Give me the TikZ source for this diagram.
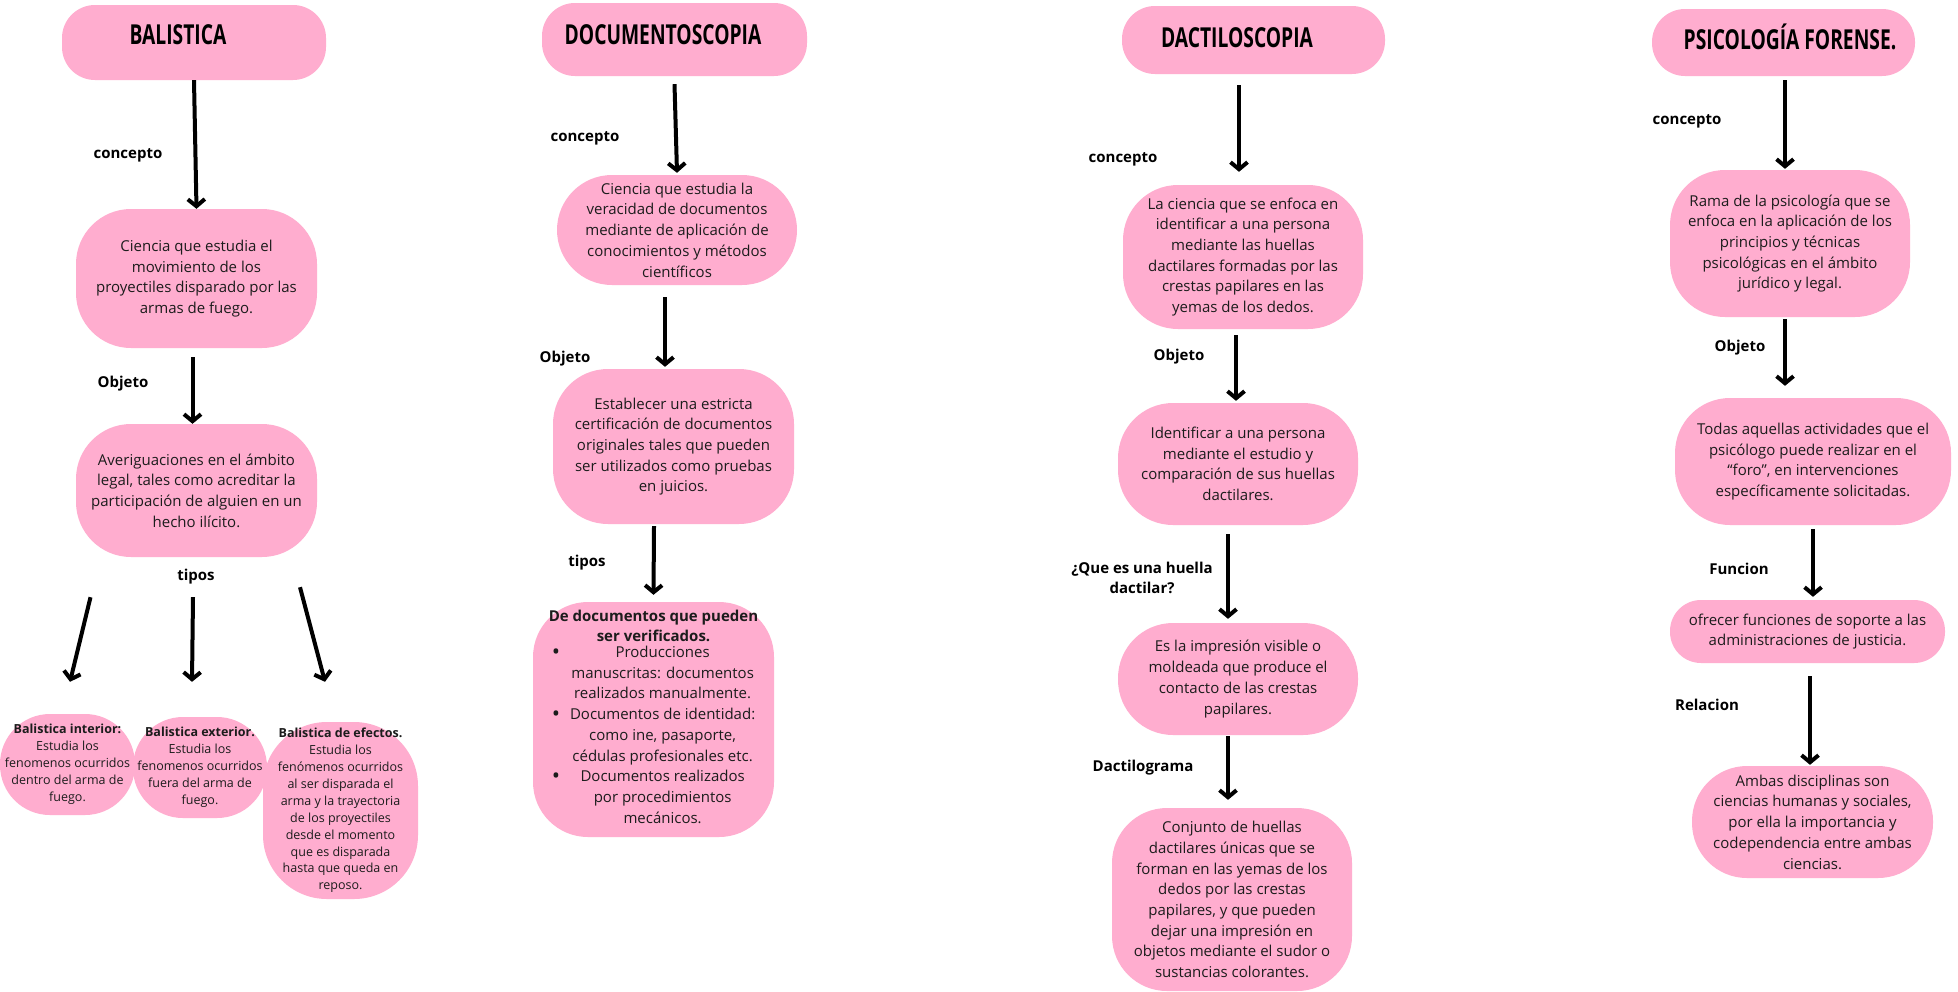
\documentclass[tikz,border=0pt]{standalone}
\usepackage{fontspec}
\setmainfont{Open Sans}
\newfontfamily\titulofont{Open Sans}[FakeStretch=0.7]
\usetikzlibrary{arrows.meta}
\definecolor{RosaCaja}{HTML}{FFADCF}
\definecolor{TextoOscuro}{HTML}{1C1C1C}
\newcommand{\vineta}{\raisebox{-2pt}{\fontsize{22}{20.7}\selectfont\textbullet}}

\begin{document}
\begin{tikzpicture}[x=1pt, y=-1pt,
    caja/.style={fill=RosaCaja, rounded corners=55pt, inner sep=0pt, align=center,
      text=TextoOscuro, font=\fontsize{15}{20.7}\selectfont},
    chica/.style={caja, rounded corners=50pt, font=\fontsize{12.5}{16.9}\selectfont},
    titulo/.style={fill=RosaCaja, rounded corners=33pt, inner sep=0pt},
    textotitulo/.style={inner sep=0pt, font=\titulofont\bfseries\fontsize{27.5}{28}\selectfont},
    etiqueta/.style={align=center, font=\bfseries\fontsize{15}{20}\selectfont},
    flecha/.style={line width=4pt, -{Straight Barb[length=7pt,width=17pt]}}]

  % Canvas
  \fill[white] (0,0) rectangle (1958,991);
  \useasboundingbox (0,0) rectangle (1958,991);

  % Balistica
  \node[titulo, minimum width=264pt, minimum height=75pt] (bal) at (194,42.5) {};
  \node[textotitulo] (balT) at (178,35) {BALISTICA};
  \node[caja, minimum width=241pt, minimum height=139pt] (bal1) at (196.5,278.5)
    {Ciencia que estudia el\\movimiento de los\\proyectiles disparado por las\\armas de fuego.};
  \node[caja, minimum width=241pt, minimum height=133pt] (bal2) at (196.5,490.5)
    {Averiguaciones en el ámbito\\legal, tales como acreditar la\\participación de alguien en un\\hecho ilícito.};
  \node[etiqueta] (balc) at (128,155) {concepto};
  \node[etiqueta] (balo) at (123,384) {Objeto};
  \node[etiqueta] (balt) at (196,577) {tipos};
  \node[chica, minimum width=135pt, minimum height=101pt] (int) at (67.5,764.5)
    {\textbf{Balistica interior:}\\Estudia los\\fenomenos ocurridos\\dentro del arma de\\fuego.};
  \node[chica, minimum width=134pt, minimum height=101pt] (ext) at (200,767.5)
    {\textbf{Balistica exterior.}\\Estudia los\\fenomenos ocurridos\\fuera del arma de\\fuego.};
  \node[chica, minimum width=155pt, minimum height=177pt, rounded corners=64pt] (efe) at (340.5,810.5)
    {\textbf{Balistica de efectos.}\\Estudia los\\fenómenos ocurridos\\al ser disparada el\\arma y la trayectoria\\de los proyectiles\\desde el momento\\que es disparada\\hasta que queda en\\reposo.};
  \draw[flecha] (bal.south) -- (bal1.north);
  \draw[flecha] ([xshift=-4pt,yshift=-9pt]bal1.south) -- ([xshift=-4pt]bal2.north);
  \draw[flecha] ([xshift=-106pt,yshift=-40pt]bal2.south) -- ([xshift=2.5pt,yshift=32pt]int.north);
  \draw[flecha] ([xshift=-3.5pt,yshift=-40pt]bal2.south) -- ([xshift=-8pt,yshift=35pt]ext.north);
  \draw[flecha] ([xshift=103.5pt,yshift=-30pt]bal2.south) -- ([xshift=-15.5pt,yshift=40pt]efe.north);

  % Documentoscopia
  \node[titulo, minimum width=265pt, minimum height=73pt] (doc) at (674.5,39.5) {};
  \node[textotitulo] (docT) at (663,35) {DOCUMENTOSCOPIA};
  \node[caja, minimum width=240pt, minimum height=110pt] (doc1) at (677,230)
    {Ciencia que estudia la\\veracidad de documentos\\mediante de aplicación de\\conocimientos y métodos\\científicos};
  \node[caja, minimum width=241pt, minimum height=155pt] (doc2) at (673.5,446.5)
    {Establecer una estricta\\certificación de documentos\\originales tales que pueden\\ser utilizados como pruebas\\en juicios.};
  \node[caja, minimum width=241pt, minimum height=235pt] (doc3) at (653.5,719.5)
    {\textbf{De documentos que pueden}\\\textbf{ser verificados.}\\
     \begin{tabular}{@{}c@{\hspace{10pt}}c@{}}
       \vineta & Producciones\\
               & manuscritas: documentos\\
               & realizados manualmente.\\
       \vineta & Documentos de identidad:\\
               & como ine, pasaporte,\\
               & cédulas profesionales etc.\\
       \vineta & Documentos realizados\\
               & por procedimientos\\
               & mecánicos.
     \end{tabular}};
  \node[etiqueta] (docc) at (585,138) {concepto};
  \node[etiqueta] (doco) at (565,359) {Objeto};
  \node[etiqueta] (doct) at (587,563) {tipos};
  \draw[flecha] ([yshift=-8pt]doc.south) -- ([yshift=2pt]doc1.north);
  \draw[flecha] ([xshift=-12pt,yshift=-12pt]doc1.south) -- ([xshift=-8.5pt,yshift=2pt]doc2.north);
  \draw[flecha] ([xshift=-19.5pt,yshift=-2pt]doc2.south) -- ([yshift=7pt]doc3.north);

  % Dactiloscopia
  \node[titulo, minimum width=263pt, minimum height=68pt] (dac) at (1253.5,40) {};
  \node[textotitulo] (dacT) at (1237,38) {DACTILOSCOPIA};
  \node[caja, minimum width=240pt, minimum height=144pt] (dac1) at (1243,257)
    {La ciencia que se enfoca en\\identificar a una persona\\mediante las huellas\\dactilares formadas por las\\crestas papilares en las\\yemas de los dedos.};
  \node[caja, minimum width=240pt, minimum height=122pt] (dac2) at (1238,464)
    {Identificar a una persona\\mediante el estudio y\\comparación de sus huellas\\dactilares.};
  \node[caja, minimum width=240pt, minimum height=112pt] (dac3) at (1238,679)
    {Es la impresión visible o\\moldeada que produce el\\contacto de las crestas\\papilares.};
  \node[caja, minimum width=240pt, minimum height=183pt] (dac4) at (1232,899.5)
    {Conjunto de huellas\\dactilares únicas que se\\forman en las yemas de los\\dedos por las crestas\\papilares, y que pueden\\dejar una impresión en\\objetos mediante el sudor o\\sustancias colorantes.};
  \node[etiqueta] (dacc) at (1123,159) {concepto};
  \node[etiqueta] (daco) at (1179,357) {Objeto};
  \node[etiqueta] (dach) at (1142,578) {¿Que es una huella\\dactilar?};
  \node[etiqueta] (dacd) at (1143,768) {Dactilograma};
  \draw[flecha] ([xshift=-14.5pt,yshift=-11pt]dac.south) -- ([xshift=-4pt,yshift=13pt]dac1.north);
  \draw[flecha] ([xshift=-7pt,yshift=-6pt]dac1.south) -- ([xshift=-2pt,yshift=2pt]dac2.north);
  \draw[flecha] ([xshift=-10pt,yshift=-9pt]dac2.south) -- ([xshift=-10pt,yshift=4pt]dac3.north);
  \draw[flecha] ([xshift=-10pt,yshift=-1pt]dac3.south) -- ([xshift=-4pt,yshift=8pt]dac4.north);

  % Psicologia forense
  \node[titulo, minimum width=263pt, minimum height=67pt] (psi) at (1783.5,42.5) {};
  \node[textotitulo] (psiT) at (1790,37) {PSICOLOGÍA FORENSE.};
  \node[caja, minimum width=240pt, minimum height=147pt] (psi1) at (1790,243.5)
    {Rama de la psicología que se\\enfoca en la aplicación de los\\principios y técnicas\\psicológicas en el ámbito\\jurídico y legal.};
  \node[caja, minimum width=276pt, minimum height=127pt] (psi2) at (1813,461.5)
    {Todas aquellas actividades que el\\psicólogo puede realizar en el\\“foro”, en intervenciones\\específicamente solicitadas.};
  \node[caja, minimum width=275pt, minimum height=63pt, rounded corners=31pt] (psi3) at (1807.5,631.5)
    {ofrecer funciones de soporte a las\\administraciones de justicia.};
  \node[caja, minimum width=241pt, minimum height=112pt] (psi4) at (1812.5,822)
    {Ambas disciplinas son\\ciencias humanas y sociales,\\por ella la importancia y\\codependencia entre ambas\\ciencias.};
  \node[etiqueta] (psic) at (1687,121) {concepto};
  \node[etiqueta] (psio) at (1740,348) {Objeto};
  \node[etiqueta] (psif) at (1739,569) {Funcion};
  \node[etiqueta] (psir) at (1707,705) {Relacion};
  \draw[flecha] ([xshift=1.5pt,yshift=-4pt]psi.south) -- ([xshift=-5pt,yshift=1pt]psi1.north);
  \draw[flecha] ([xshift=-5pt,yshift=-2pt]psi1.south) -- ([xshift=-28pt,yshift=12pt]psi2.north);
  \draw[flecha] ([yshift=-4pt]psi2.south) -- ([xshift=5.5pt,yshift=3pt]psi3.north);
  \draw[flecha] ([xshift=2.5pt,yshift=-13pt]psi3.south) -- ([xshift=-2.5pt,yshift=1pt]psi4.north);
\end{tikzpicture}
\end{document}
